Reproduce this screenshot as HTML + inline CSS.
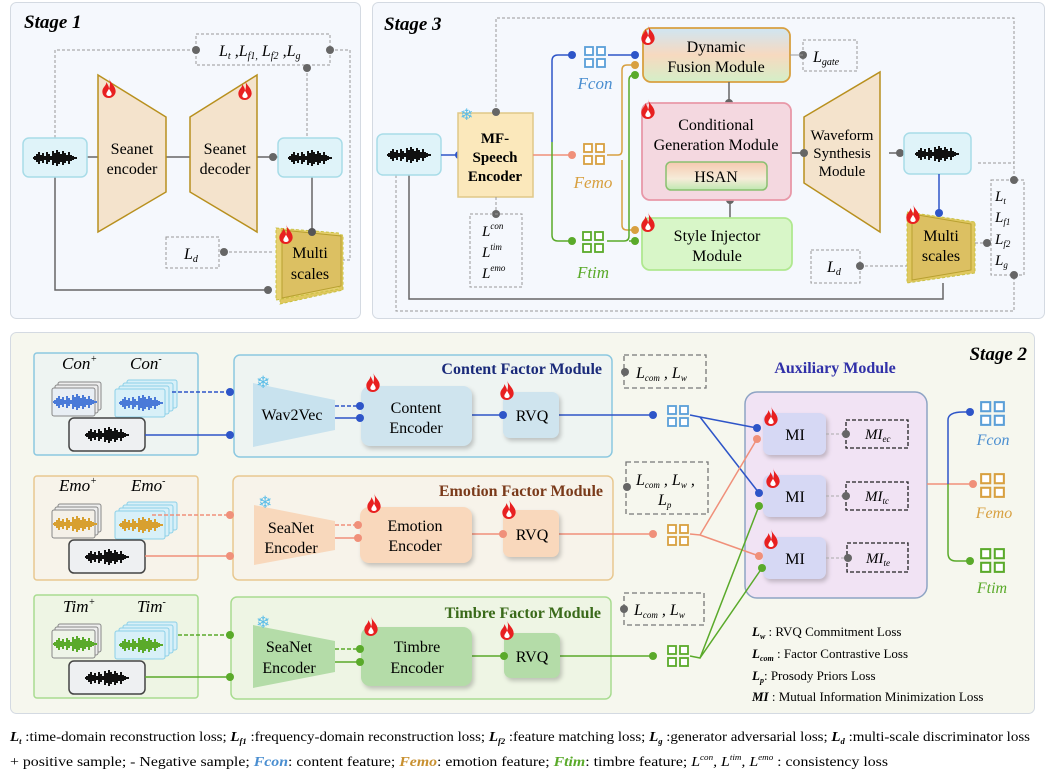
<!DOCTYPE html>
<html><head><meta charset="utf-8"><style>
html,body{margin:0;padding:0;background:#fff;}
svg{display:block;font-family:"Liberation Serif",serif;}
</style></head><body>
<svg width="1046" height="781" viewBox="0 0 1046 781" xmlns="http://www.w3.org/2000/svg">
<defs>
<symbol id="wf" viewBox="-24 -10 48 20" width="48" height="20" overflow="visible">
<path d="M-22 0H22M-20-2v4M-18-4v8M-16-6v12M-14-3v6M-12-5v10M-10-2v4M-8-6v12M-6-4v8M-4-2v4M-2-7v14M0-5v10M2-8v16M4-6v12M6-4v8M8-7v14M10-5v10M12-3v6M14-6v12M16-3v6M18-2v4" stroke="currentColor" stroke-width="2" fill="none"/>
</symbol>
<symbol id="fire" viewBox="0 0 10 15" width="14" height="20" overflow="visible">
<path d="M5 0C6 4 10 6 10 10C10 13 7 15 5 15C2 15 0 13 0 10C0 7 3 6 3 3C4 5 5 6 5 8C6 6 6 3 5 0Z" fill="#e82020"/>
<path d="M5 8C6 10 7 11 7 12C7 14 3 14 3 12C3 11 4 10 5 8Z" fill="#fff"/>
</symbol>
<symbol id="grid" viewBox="0 0 22 22" width="22" height="22" overflow="visible">
<g fill="#fff" stroke="currentColor" stroke-width="1.8"><rect x="1" y="1" width="8" height="8"/><rect x="13" y="1" width="8" height="8"/><rect x="1" y="13" width="8" height="8"/><rect x="13" y="13" width="8" height="8"/></g>
</symbol>
<linearGradient id="dfm" x1="0" y1="0" x2="0" y2="1"><stop offset="0" stop-color="#cfe6f3"/><stop offset="0.5" stop-color="#f7d9bf"/><stop offset="1" stop-color="#d4efc8"/></linearGradient>
<linearGradient id="hsan" x1="0" y1="0" x2="0" y2="1"><stop offset="0" stop-color="#f6c9b0"/><stop offset="0.6" stop-color="#f6ecd9"/><stop offset="1" stop-color="#bfe8b0"/></linearGradient>
</defs>

<!-- ===== Stage 1 ===== -->
<rect x="10.5" y="2.5" width="350" height="316" rx="6" fill="#f5f8fd" stroke="#d4dae2"/>
<text x="24" y="28" font-size="19" font-weight="bold" font-style="italic">Stage 1</text>
<rect x="196" y="34" width="134" height="31" fill="none" stroke="#999" stroke-dasharray="3,2"/>
<text x="219" y="56" font-size="16" font-style="italic">L<tspan font-size="10" dy="3">t</tspan><tspan dy="-3"> ,L</tspan><tspan font-size="10" dy="3">f1,</tspan><tspan dy="-3"> L</tspan><tspan font-size="10" dy="3">f2</tspan><tspan dy="-3"> ,L</tspan><tspan font-size="10" dy="3">g</tspan></text>
<path d="M55 138V50H196M330 50H350V260H340M307 68V138" fill="none" stroke="#999" stroke-dasharray="3,2"/>
<circle cx="196" cy="50" r="4" fill="#666"/><circle cx="330" cy="50" r="4" fill="#666"/><circle cx="307" cy="68" r="4" fill="#666"/>
<path d="M55 177V290H268M87 157H98M166 157H190M257 157H278M312 177V232" stroke="#666" stroke-width="1.5" fill="none"/>
<rect x="23" y="138" width="64" height="39" rx="6" fill="#dff3f9" stroke="#a8dce8" stroke-width="1.5"/>
<use href="#wf" x="31" y="148" style="color:#111"/>
<polygon points="98,75 166,117 166,192 98,232" fill="#f4e3cc" stroke="#b8901e" stroke-width="1.5"/>
<polygon points="190,117 257,75 257,232 190,192" fill="#f4e3cc" stroke="#b8901e" stroke-width="1.5"/>
<use href="#fire" x="102" y="78"/><use href="#fire" x="238" y="80"/>
<text x="132" y="154" font-size="16" text-anchor="middle">Seanet</text><text x="132" y="174" font-size="16" text-anchor="middle">encoder</text>
<text x="225" y="154" font-size="16" text-anchor="middle">Seanet</text><text x="225" y="174" font-size="16" text-anchor="middle">decoder</text>
<rect x="278" y="138" width="64" height="39" rx="6" fill="#dff3f9" stroke="#a8dce8" stroke-width="1.5"/>
<use href="#wf" x="286" y="148" style="color:#111"/>
<circle cx="273" cy="157" r="4" fill="#666"/>
<rect x="166" y="237" width="53" height="31" fill="none" stroke="#999" stroke-dasharray="3,2"/>
<text x="184" y="259" font-size="16" font-style="italic">L<tspan font-size="10" dy="3">d</tspan></text>
<path d="M224 252H272" stroke="#999" stroke-dasharray="3,2"/><circle cx="224" cy="252" r="4" fill="#666"/>
<polygon points="280,229 343,235 343,290 280,304" fill="#e0c860" stroke="#c8c040" stroke-dasharray="3,2"/>
<polygon points="276,228 339,233 339,289 276,300" fill="#e6d070" stroke="#c8c040" stroke-dasharray="3,2"/>
<polygon points="282,230 341,236 341,286 282,298" fill="#dcc062" stroke="#b8a030"/>
<use href="#fire" x="279" y="224"/>
<text x="310" y="258" font-size="16" text-anchor="middle">Multi</text><text x="310" y="279" font-size="16" text-anchor="middle">scales</text>
<circle cx="312" cy="232" r="4" fill="#555"/><circle cx="268" cy="290" r="4" fill="#666"/>

<!-- ===== Stage 3 ===== -->
<rect x="372.5" y="2.5" width="672" height="316" rx="6" fill="#f5f8fd" stroke="#d4dae2"/>
<text x="384" y="30" font-size="19" font-weight="bold" font-style="italic">Stage 3</text>
<path d="M496 112V18H1014V180M978 163H1014M396 175V311H1014V275" fill="none" stroke="#999" stroke-dasharray="3,2"/>
<path d="M409 175V299H943V283" fill="none" stroke="#666" stroke-width="1.5"/>
<rect x="377" y="134" width="64" height="41" rx="6" fill="#dff3f9" stroke="#a8dce8" stroke-width="1.5"/>
<use href="#wf" x="385" y="145" style="color:#111"/>
<path d="M441 155H459" stroke="#2e55c8" stroke-width="1.5"/><circle cx="459" cy="155" r="4" fill="#2e55c8"/>
<rect x="458" y="113" width="75" height="84" fill="#fbe8bb" stroke="#e0c888" stroke-width="1.5"/>
<text x="460" y="120" font-size="16" fill="#5bbde8">❄</text>
<text x="495" y="143" font-size="15" font-weight="bold" text-anchor="middle">MF-</text>
<text x="495" y="162" font-size="15" font-weight="bold" text-anchor="middle">Speech</text>
<text x="495" y="181" font-size="15" font-weight="bold" text-anchor="middle">Encoder</text>
<circle cx="496" cy="112" r="4" fill="#666"/>
<path d="M496 197V214" stroke="#999" stroke-dasharray="3,2"/><circle cx="496" cy="214" r="4" fill="#666"/>
<rect x="470" y="214" width="52" height="73" fill="none" stroke="#999" stroke-dasharray="3,2"/>
<text x="482" y="236" font-size="15" font-style="italic">L<tspan font-size="9" dy="-7">con</tspan></text>
<text x="482" y="257" font-size="15" font-style="italic">L<tspan font-size="9" dy="-7">tim</tspan></text>
<text x="482" y="278" font-size="15" font-style="italic">L<tspan font-size="9" dy="-7">emo</tspan></text>
<path d="M533 155H572" stroke="#f0907a" stroke-width="1.5"/>
<path d="M552 142V61Q552 55 558 55H572" stroke="#2e55c8" stroke-width="1.5" fill="none"/>
<path d="M552 142V235Q552 241 558 241H572" stroke="#5aaa2a" stroke-width="1.5" fill="none"/>
<circle cx="572" cy="55" r="4" fill="#2e55c8"/><circle cx="572" cy="155" r="4" fill="#f0907a"/><circle cx="572" cy="241" r="4" fill="#5aaa2a"/>
<use href="#grid" x="584" y="46" style="color:#5a9fd8"/>
<use href="#grid" x="583" y="143" style="color:#d8a040"/>
<use href="#grid" x="582" y="231" style="color:#5aaa2a"/>
<text x="595" y="89" font-size="17" font-style="italic" fill="#4a8ed0" text-anchor="middle">Fcon</text>
<text x="593" y="188" font-size="17" font-style="italic" fill="#d8a040" text-anchor="middle">Femo</text>
<text x="593" y="278" font-size="17" font-style="italic" fill="#5aaa2a" text-anchor="middle">Ftim</text>
<path d="M608 55H635" stroke="#2e55c8" stroke-width="1.5"/>
<path d="M607 155H618Q622 155 622 150V70Q622 65 627 65H635M622 160V225Q622 230 627 230H635" stroke="#d8a040" stroke-width="1.5" fill="none"/>
<path d="M607 241H624Q629 241 629 236V80Q629 75 634 75H635M629 241H635" stroke="#5aaa2a" stroke-width="1.5" fill="none"/>
<rect x="643" y="28" width="147" height="54" rx="8" fill="url(#dfm)" stroke="#d8a040" stroke-width="1.8"/>
<use href="#fire" x="641" y="25"/>
<text x="716" y="52" font-size="16" text-anchor="middle">Dynamic</text><text x="716" y="72" font-size="16" text-anchor="middle">Fusion Module</text>
<circle cx="635" cy="55" r="4" fill="#2e55c8"/><circle cx="635" cy="65" r="4" fill="#d8a040"/><circle cx="635" cy="75" r="4" fill="#5aaa2a"/>
<rect x="803" y="40" width="54" height="31" fill="none" stroke="#999" stroke-dasharray="3,2"/>
<circle cx="803" cy="55" r="4" fill="#666"/><path d="M790 55H803" stroke="#999"/>
<text x="813" y="62" font-size="16" font-style="italic">L<tspan font-size="10" dy="3">gate</tspan></text>
<path d="M729 82V103M730 200V218M791 153H804M889 153H904" stroke="#666" stroke-width="1.5"/>
<circle cx="729" cy="103" r="4" fill="#666"/><circle cx="730" cy="200" r="4" fill="#666"/>
<rect x="642" y="103" width="149" height="97" rx="8" fill="#f4d8e0" stroke="#e898a8" stroke-width="1.8"/>
<use href="#fire" x="641" y="99"/>
<text x="716" y="130" font-size="16" text-anchor="middle">Conditional</text><text x="716" y="150" font-size="16" text-anchor="middle">Generation Module</text>
<rect x="666" y="162" width="101" height="28" rx="5" fill="url(#hsan)" stroke="#8ac070" stroke-width="1.5"/>
<text x="716" y="182" font-size="16" text-anchor="middle">HSAN</text>
<rect x="642" y="218" width="150" height="52" rx="8" fill="#d8f6c8" stroke="#b0e890" stroke-width="1.8"/>
<use href="#fire" x="641" y="212"/>
<text x="717" y="241" font-size="16" text-anchor="middle">Style Injector</text><text x="717" y="261" font-size="16" text-anchor="middle">Module</text>
<circle cx="635" cy="230" r="4" fill="#d8a040"/><circle cx="635" cy="241" r="4" fill="#5aaa2a"/>
<polygon points="804,117 880,72 880,232 804,183" fill="#f4e3cc" stroke="#b8901e" stroke-width="1.5"/>
<circle cx="804" cy="153" r="4" fill="#666"/><circle cx="900" cy="153" r="4" fill="#666"/>
<text x="842" y="140" font-size="15" text-anchor="middle">Waveform</text><text x="842" y="158" font-size="15" text-anchor="middle">Synthesis</text><text x="842" y="176" font-size="15" text-anchor="middle">Module</text>
<rect x="904" y="133" width="67" height="41" rx="6" fill="#dff3f9" stroke="#a8dce8" stroke-width="1.5"/>
<use href="#wf" x="913" y="144" style="color:#111"/>
<path d="M939 174V212" stroke="#2e55c8" stroke-width="1.5"/>
<polygon points="907,212 975,222 975,273 907,283" fill="#e0c860" stroke="#c8c040" stroke-dasharray="3,2"/>
<polygon points="912,214 971,224 971,270 912,280" fill="#dcc062" stroke="#b8a030"/>
<use href="#fire" x="906" y="204"/>
<text x="941" y="241" font-size="16" text-anchor="middle">Multi</text><text x="941" y="261" font-size="16" text-anchor="middle">scales</text>
<circle cx="939" cy="213" r="4" fill="#2e55c8"/>
<rect x="991" y="180" width="33" height="95" fill="none" stroke="#999" stroke-dasharray="3,2"/>
<circle cx="1014" cy="180" r="4" fill="#666"/><circle cx="1014" cy="275" r="4" fill="#666"/>
<path d="M975 243H987" stroke="#999" stroke-dasharray="3,2"/><circle cx="987" cy="243" r="4" fill="#666"/>
<g font-size="15" font-style="italic"><text x="995" y="201">L<tspan font-size="9" dy="3">t</tspan></text><text x="995" y="222">L<tspan font-size="9" dy="3">f1</tspan></text><text x="995" y="244">L<tspan font-size="9" dy="3">f2</tspan></text><text x="995" y="265">L<tspan font-size="9" dy="3">g</tspan></text></g>
<rect x="811" y="250" width="49" height="33" fill="none" stroke="#999" stroke-dasharray="3,2"/>
<text x="827" y="272" font-size="16" font-style="italic">L<tspan font-size="10" dy="3">d</tspan></text>
<path d="M860 266H907" stroke="#999" stroke-dasharray="3,2"/><circle cx="860" cy="266" r="4" fill="#666"/>

<!-- ===== Stage 2 ===== -->
<rect x="10.5" y="332.5" width="1024" height="381" rx="6" fill="#f6f7ee" stroke="#d4dae2"/>
<text x="1027" y="360" font-size="19" font-weight="bold" font-style="italic" text-anchor="end">Stage 2</text>

<g>
<rect x="34" y="353" width="164" height="102" rx="3" fill="#eef4f2" stroke="#8cc8e0" stroke-width="1.5"/>
<rect x="234" y="355" width="378" height="102" rx="6" fill="#eef4f2" stroke="#8cc8e0" stroke-width="1.5"/>
<rect x="34" y="476" width="164" height="104" rx="3" fill="#f7f3ea" stroke="#e8c890" stroke-width="1.5"/>
<rect x="233" y="476" width="380" height="104" rx="6" fill="#f7f3ea" stroke="#e8c890" stroke-width="1.5"/>
<rect x="34" y="595" width="164" height="103" rx="3" fill="#eef5e4" stroke="#a8dc90" stroke-width="1.5"/>
<rect x="231" y="597" width="380" height="102" rx="6" fill="#eef5e4" stroke="#a8dc90" stroke-width="1.5"/>
</g>
<text x="602" y="374" font-size="16" font-weight="bold" fill="#1a2a7a" text-anchor="end">Content Factor Module</text>
<text x="603" y="496" font-size="16" font-weight="bold" fill="#7a3a1a" text-anchor="end">Emotion Factor Module</text>
<text x="601" y="618" font-size="16" font-weight="bold" fill="#3a6a1a" text-anchor="end">Timbre Factor Module</text>

<g font-size="17" font-style="italic">
<text x="62" y="369">Con<tspan font-size="10" dy="-7">+</tspan></text><text x="130" y="369">Con<tspan font-size="10" dy="-7">-</tspan></text>
<text x="59" y="491">Emo<tspan font-size="10" dy="-7">+</tspan></text><text x="131" y="491">Emo<tspan font-size="10" dy="-7">-</tspan></text>
<text x="63" y="612">Tim<tspan font-size="10" dy="-7">+</tspan></text><text x="137" y="612">Tim<tspan font-size="10" dy="-7">-</tspan></text>
</g>
<g stroke="#888" stroke-width="1">
<rect x="58" y="382" width="43" height="28" rx="2" fill="#eee"/><rect x="55" y="385" width="43" height="28" rx="2" fill="#eee"/><rect x="52" y="388" width="43" height="28" rx="2" fill="#e8eef4"/>
<rect x="58" y="504" width="43" height="28" rx="2" fill="#eee"/><rect x="55" y="507" width="43" height="28" rx="2" fill="#eee"/><rect x="52" y="510" width="43" height="28" rx="2" fill="#f4f0e8"/>
<rect x="58" y="624" width="43" height="28" rx="2" fill="#eee"/><rect x="55" y="627" width="43" height="28" rx="2" fill="#eee"/><rect x="52" y="630" width="43" height="28" rx="2" fill="#eef4e8"/>
</g>
<g stroke="#8cd0e8" stroke-width="1">
<rect x="127" y="380" width="50" height="28" rx="2" fill="#d8f0f8"/><rect x="123" y="383" width="50" height="28" rx="2" fill="#d8f0f8"/><rect x="119" y="386" width="50" height="28" rx="2" fill="#d8f0f8"/><rect x="115" y="389" width="50" height="28" rx="2" fill="#d8f0f8"/>
<rect x="127" y="502" width="50" height="28" rx="2" fill="#d8f0f8"/><rect x="123" y="505" width="50" height="28" rx="2" fill="#d8f0f8"/><rect x="119" y="508" width="50" height="28" rx="2" fill="#d8f0f8"/><rect x="115" y="511" width="50" height="28" rx="2" fill="#d8f0f8"/>
<rect x="127" y="622" width="50" height="28" rx="2" fill="#d8f0f8"/><rect x="123" y="625" width="50" height="28" rx="2" fill="#d8f0f8"/><rect x="119" y="628" width="50" height="28" rx="2" fill="#d8f0f8"/><rect x="115" y="631" width="50" height="28" rx="2" fill="#d8f0f8"/>
</g>
<use href="#wf" x="51" y="392" style="color:#4a7ad8"/><use href="#wf" x="117" y="393" style="color:#4a7ad8"/>
<use href="#wf" x="51" y="514" style="color:#d8a030"/><use href="#wf" x="117" y="515" style="color:#d8a030"/>
<use href="#wf" x="51" y="634" style="color:#5aaa2a"/><use href="#wf" x="117" y="635" style="color:#5aaa2a"/>
<g fill="#eef0f2" stroke="#444" stroke-width="1.5">
<rect x="69" y="418" width="76" height="33" rx="5"/><rect x="69" y="540" width="76" height="33" rx="5"/><rect x="69" y="661" width="76" height="33" rx="5"/>
</g>
<use href="#wf" x="83" y="425" style="color:#111"/><use href="#wf" x="83" y="547" style="color:#111"/><use href="#wf" x="83" y="668" style="color:#111"/>

<path d="M172 392H230" stroke="#2e55c8" stroke-width="1.5" stroke-dasharray="4,2"/><path d="M145 435H230" stroke="#2e55c8" stroke-width="1.5"/>
<path d="M152 515H230" stroke="#f0907a" stroke-width="1.5" stroke-dasharray="4,2"/><path d="M145 556H230" stroke="#f0907a" stroke-width="1.5"/>
<path d="M178 635H230" stroke="#5aaa2a" stroke-width="1.5" stroke-dasharray="4,2"/><path d="M145 677H230" stroke="#5aaa2a" stroke-width="1.5"/>
<g fill="#2e55c8"><circle cx="230" cy="392" r="4"/><circle cx="230" cy="435" r="4"/></g>
<g fill="#f0907a"><circle cx="230" cy="515" r="4"/><circle cx="230" cy="556" r="4"/></g>
<g fill="#5aaa2a"><circle cx="230" cy="635" r="4"/><circle cx="230" cy="677" r="4"/></g>

<polygon points="253,383 335,400 335,430 253,447" fill="#c8e2ee"/>
<polygon points="254,505 335,521 335,550 254,565" fill="#f8d8bc"/>
<polygon points="253,625 335,641 335,672 253,688" fill="#b4dca8"/>
<g font-size="17" fill="#5bbde8"><text x="256" y="388">❄</text><text x="258" y="508">❄</text><text x="256" y="628">❄</text></g>
<text x="292" y="420" font-size="16" text-anchor="middle">Wav2Vec</text>
<text x="291" y="533" font-size="16" text-anchor="middle">SeaNet</text><text x="291" y="553" font-size="16" text-anchor="middle">Encoder</text>
<text x="289" y="652" font-size="16" text-anchor="middle">SeaNet</text><text x="289" y="673" font-size="16" text-anchor="middle">Encoder</text>

<g stroke-width="1.5">
<path d="M335 406H360" stroke="#2e55c8" stroke-dasharray="4,2"/><path d="M335 418H360" stroke="#2e55c8"/>
<path d="M335 525H358" stroke="#f0907a" stroke-dasharray="4,2"/><path d="M335 538H358" stroke="#f0907a"/>
<path d="M335 649H360" stroke="#5aaa2a" stroke-dasharray="4,2"/><path d="M335 662H360" stroke="#5aaa2a"/>
<path d="M472 415H653" stroke="#2e55c8"/><path d="M472 534H653" stroke="#f0907a"/><path d="M472 656H653" stroke="#5aaa2a"/>
</g>
<rect x="361" y="386" width="111" height="60" rx="9" fill="#cfe4ee" style="filter:drop-shadow(2px 3px 2px rgba(0,0,0,.2))"/>
<rect x="360" y="507" width="112" height="56" rx="9" fill="#f9d8bc" style="filter:drop-shadow(2px 3px 2px rgba(0,0,0,.2))"/>
<rect x="361" y="627" width="111" height="59" rx="9" fill="#b4dca8" style="filter:drop-shadow(2px 3px 2px rgba(0,0,0,.2))"/>
<rect x="503" y="392" width="56" height="46" rx="7" fill="#cfe4ee" style="filter:drop-shadow(2px 3px 2px rgba(0,0,0,.2))"/>
<rect x="503" y="510" width="56" height="47" rx="7" fill="#f9d8bc" style="filter:drop-shadow(2px 3px 2px rgba(0,0,0,.2))"/>
<rect x="504" y="633" width="56" height="45" rx="7" fill="#b4dca8" style="filter:drop-shadow(2px 3px 2px rgba(0,0,0,.2))"/>
<use href="#fire" x="366" y="372"/><use href="#fire" x="367" y="493"/><use href="#fire" x="364" y="616"/>
<use href="#fire" x="500" y="380"/><use href="#fire" x="502" y="499"/><use href="#fire" x="500" y="620"/>
<g fill="#2e55c8"><circle cx="360" cy="406" r="4"/><circle cx="360" cy="418" r="4"/><circle cx="503" cy="415" r="4"/><circle cx="653" cy="415" r="4"/></g>
<g fill="#f0907a"><circle cx="358" cy="525" r="4"/><circle cx="358" cy="538" r="4"/><circle cx="503" cy="534" r="4"/><circle cx="653" cy="534" r="4"/></g>
<g fill="#5aaa2a"><circle cx="360" cy="649" r="4"/><circle cx="360" cy="662" r="4"/><circle cx="504" cy="656" r="4"/><circle cx="653" cy="656" r="4"/></g>
<g font-size="16" text-anchor="middle">
<text x="416" y="413">Content</text><text x="416" y="433">Encoder</text>
<text x="415" y="531">Emotion</text><text x="415" y="551">Encoder</text>
<text x="417" y="652">Timbre</text><text x="417" y="673">Encoder</text>
<text x="532" y="421">RVQ</text><text x="532" y="540">RVQ</text><text x="532" y="662">RVQ</text>
</g>
<use href="#grid" x="667" y="405" style="color:#5a9fd8"/>
<use href="#grid" x="667" y="524" style="color:#d8a040"/>
<use href="#grid" x="667" y="645" style="color:#5aaa2a"/>

<rect x="624" y="355" width="82" height="33" fill="none" stroke="#777" stroke-dasharray="5,3" stroke-width="1.3"/>
<rect x="626" y="462" width="82" height="52" fill="none" stroke="#777" stroke-dasharray="5,3" stroke-width="1.3"/>
<rect x="624" y="593" width="80" height="32" fill="none" stroke="#777" stroke-dasharray="5,3" stroke-width="1.3"/>
<g fill="#666"><circle cx="625" cy="372" r="4"/><circle cx="627" cy="487" r="4"/><circle cx="624" cy="609" r="4"/></g>
<g font-size="16" font-style="italic">
<text x="636" y="378">L<tspan font-size="9" dy="3">com</tspan><tspan dy="-3"> , L</tspan><tspan font-size="9" dy="3">w</tspan></text>
<text x="636" y="485">L<tspan font-size="9" dy="3">com</tspan><tspan dy="-3"> , L</tspan><tspan font-size="9" dy="3">w</tspan><tspan dy="-3"> ,</tspan></text>
<text x="658" y="505">L<tspan font-size="9" dy="3">p</tspan></text>
<text x="634" y="615">L<tspan font-size="9" dy="3">com</tspan><tspan dy="-3"> , L</tspan><tspan font-size="9" dy="3">w</tspan></text>
</g>

<text x="835" y="373" font-size="16" font-weight="bold" fill="#3030a8" text-anchor="middle">Auxiliary Module</text>
<rect x="745" y="392" width="182" height="206" rx="12" fill="#f1e3f4" stroke="#8ea4c4" stroke-width="1.5"/>
<g style="filter:drop-shadow(2px 3px 2px rgba(0,0,0,.2))" fill="#d6d8f4">
<rect x="763" y="413" width="63" height="42" rx="7"/><rect x="763" y="475" width="63" height="42" rx="7"/><rect x="763" y="537" width="63" height="42" rx="7"/>
</g>
<use href="#fire" x="764" y="406"/><use href="#fire" x="766" y="468"/><use href="#fire" x="764" y="529"/>
<g font-size="16" text-anchor="middle"><text x="795" y="440">MI</text><text x="795" y="502">MI</text><text x="795" y="564">MI</text></g>
<g fill="none" stroke="#222" stroke-dasharray="4,2" stroke-width="1.3">
<rect x="846" y="420" width="62" height="28"/><rect x="846" y="482" width="62" height="28"/><rect x="847" y="543" width="61" height="29"/>
</g>
<path d="M826 434H846M826 496H846M826 558H847" stroke="#aaa" stroke-dasharray="3,2"/>
<g fill="#666"><circle cx="846" cy="434" r="4"/><circle cx="846" cy="496" r="4"/><circle cx="848" cy="558" r="4"/></g>
<g font-size="15" font-style="italic">
<text x="865" y="439">MI<tspan font-size="9" dy="3">ec</tspan></text>
<text x="865" y="501">MI<tspan font-size="9" dy="3">tc</tspan></text>
<text x="866" y="563">MI<tspan font-size="9" dy="3">te</tspan></text>
</g>
<g stroke-width="1.5" fill="none">
<path d="M690 415L700 417L757 428M700 417L759 493" stroke="#2e55c8"/>
<path d="M690 534L700 535L757 439M700 535L759 556" stroke="#f0907a"/>
<path d="M690 656L700 658L759 506M700 658L762 568" stroke="#5aaa2a"/>
</g>
<g fill="#2e55c8"><circle cx="757" cy="428" r="4"/><circle cx="759" cy="493" r="4"/></g>
<g fill="#f0907a"><circle cx="757" cy="439" r="4"/><circle cx="759" cy="556" r="4"/></g>
<g fill="#5aaa2a"><circle cx="759" cy="506" r="4"/><circle cx="762" cy="568" r="4"/></g>
<path d="M927 484H973" stroke="#f0907a" stroke-width="1.5"/>
<path d="M970 412H963Q948 412 948 420V484" stroke="#2e55c8" stroke-width="1.5" fill="none"/>
<path d="M948 484V553Q948 561 956 561H970" stroke="#5aaa2a" stroke-width="1.5" fill="none"/>
<circle cx="970" cy="412" r="4" fill="#2e55c8"/><circle cx="973" cy="484" r="4" fill="#f0907a"/><circle cx="970" cy="561" r="4" fill="#5aaa2a"/>
<use href="#grid" x="980" y="401" width="25" height="25" style="color:#5a9fd8"/>
<use href="#grid" x="980" y="473" width="25" height="25" style="color:#d8a040"/>
<use href="#grid" x="980" y="548" width="25" height="25" style="color:#5aaa2a"/>
<g font-size="16" font-style="italic" text-anchor="middle">
<text x="993" y="445" fill="#4a8ed0">Fcon</text><text x="994" y="518" fill="#d8a040">Femo</text><text x="992" y="593" fill="#5aaa2a">Ftim</text>
</g>
<g font-size="13">
<text x="752" y="636"><tspan font-weight="bold" font-style="italic">L<tspan font-size="8" dy="3">w</tspan></tspan><tspan dy="-3"> : RVQ Commitment Loss</tspan></text>
<text x="752" y="658"><tspan font-weight="bold" font-style="italic">L<tspan font-size="8" dy="3">com</tspan></tspan><tspan dy="-3"> : Factor Contrastive Loss</tspan></text>
<text x="752" y="680"><tspan font-weight="bold" font-style="italic">L<tspan font-size="8" dy="3">p</tspan></tspan><tspan dy="-3">: Prosody Priors Loss</tspan></text>
<text x="752" y="701"><tspan font-weight="bold" font-style="italic">MI</tspan> : Mutual Information Minimization Loss</text>
</g>

<text x="10" y="741" font-size="14" textLength="1020" lengthAdjust="spacingAndGlyphs"><tspan font-weight="bold" font-style="italic">L<tspan font-size="8" dy="3">t</tspan></tspan><tspan dy="-3"> :time-domain reconstruction loss; </tspan><tspan font-weight="bold" font-style="italic">L<tspan font-size="8" dy="3">f1</tspan></tspan><tspan dy="-3"> :frequency-domain reconstruction loss; </tspan><tspan font-weight="bold" font-style="italic">L<tspan font-size="8" dy="3">f2</tspan></tspan><tspan dy="-3"> :feature matching loss; </tspan><tspan font-weight="bold" font-style="italic">L<tspan font-size="8" dy="3">g</tspan></tspan><tspan dy="-3"> :generator adversarial loss; </tspan><tspan font-weight="bold" font-style="italic">L<tspan font-size="8" dy="3">d</tspan></tspan><tspan dy="-3"> :multi-scale discriminator loss</tspan></text>
<text x="10" y="766" font-size="14" textLength="878" lengthAdjust="spacingAndGlyphs">+ positive sample; - Negative sample; <tspan font-weight="bold" font-style="italic" fill="#4a8ed0">Fcon</tspan>: content feature; <tspan font-weight="bold" font-style="italic" fill="#c89030">Femo</tspan>: emotion feature; <tspan font-weight="bold" font-style="italic" fill="#5aaa2a">Ftim</tspan>: timbre feature; <tspan font-style="italic">L<tspan font-size="8" dy="-6">con</tspan><tspan dy="6">, L</tspan><tspan font-size="8" dy="-6">tim</tspan><tspan dy="6">, L</tspan><tspan font-size="8" dy="-6">emo</tspan></tspan><tspan dy="6"> : consistency loss</tspan></text>
</svg>
</body></html>
